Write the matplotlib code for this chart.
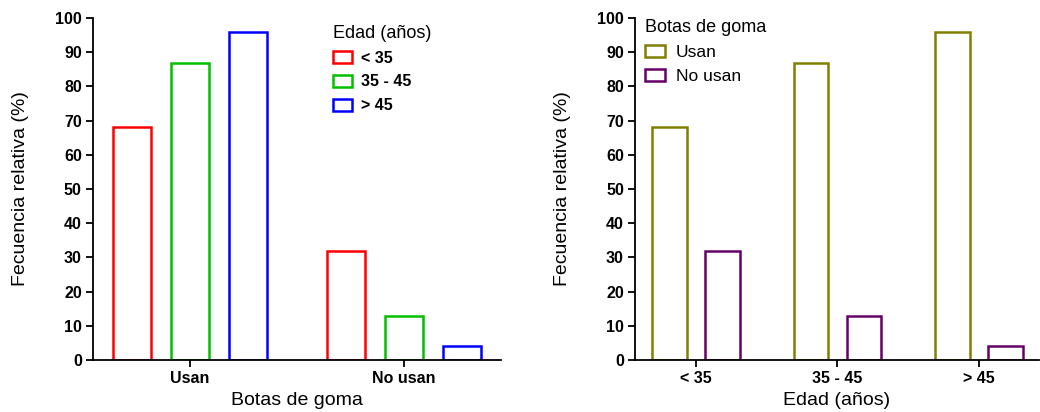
import numpy as np
import matplotlib
matplotlib.use("Agg")
import matplotlib.pyplot as plt

plt.rcParams['font.family'] = ['Liberation Sans', 'DejaVu Sans']

# Frecuencia relativa (%) por uso de botas y edad
botas = ['Usan', 'No usan']
edades = ['< 35', '35 - 45', '> 45']
usan = [68, 87, 96]
no_usan = [32, 13, 4]

colores_edad = ['#ff0000', '#00c000', '#0000ff']
colores_botas = ['#808000', '#660066']

fig = plt.figure(figsize=(10.4, 4.12), dpi=100)
ax1 = fig.add_axes([0.0894, 0.1262, 0.392, 0.830])
ax2 = fig.add_axes([0.6106, 0.1262, 0.388, 0.830])


def estilo(ax):
    for s in ['top', 'right']:
        ax.spines[s].set_visible(False)
    for s in ['left', 'bottom']:
        ax.spines[s].set_linewidth(1.3)
    ax.set_ylim(0, 100)
    ax.set_yticks(np.arange(0, 101, 10))
    ax.tick_params(axis='both', direction='out', length=5, width=1.3,
                   labelsize=11.5, pad=3)
    for lab in ax.get_yticklabels() + ax.get_xticklabels():
        lab.set_fontweight('bold')
    ax.set_ylabel('Fecuencia relativa (%)', fontsize=14, labelpad=19)


# Panel izquierdo: agrupado por botas
por_edad = np.array([usan, no_usan]).T  # filas: edad, columnas: botas
x = np.arange(len(botas))
w = 0.178
off = 0.271
for i, (edad, col) in enumerate(zip(edades, colores_edad)):
    ax1.bar(x + (i - 1) * off, por_edad[i], width=w, facecolor='white',
            edgecolor=col, linewidth=1.8, label=edad)
ax1.set_xlim(-0.453, 1.453)
ax1.set_xticks(x)
ax1.set_xticklabels(botas)
estilo(ax1)
ax1.set_xlabel('Botas de goma', fontsize=14, labelpad=4)
leg1 = ax1.legend(title='Edad (años)', loc='upper left',
                  bbox_to_anchor=(0.588, 0.98), frameon=False, fontsize=11.5,
                  title_fontsize=13, handlelength=1.2, handleheight=0.75,
                  handletextpad=0.6, labelspacing=0.55, borderpad=0,
                  borderaxespad=0)
for t in leg1.get_texts():
    t.set_fontweight('bold')
leg1._legend_box.align = 'left'

# Panel derecho: agrupado por edad
x2 = np.arange(len(edades))
w2 = 0.246
off2 = 0.187
ax2.bar(x2 - off2, usan, width=w2, facecolor='white',
        edgecolor=colores_botas[0], linewidth=1.8, label='Usan')
ax2.bar(x2 + off2, no_usan, width=w2, facecolor='white',
        edgecolor=colores_botas[1], linewidth=1.8, label='No usan')
ax2.set_xlim(-0.43, 2.42)
ax2.set_xticks(x2)
ax2.set_xticklabels(edades)
estilo(ax2)
ax2.set_xlabel('Edad (años)', fontsize=14, labelpad=4)
leg2 = ax2.legend(title='Botas de goma', loc='upper left',
                  bbox_to_anchor=(0.024, 0.997), frameon=False, fontsize=12.5,
                  title_fontsize=13, handlelength=1.15, handleheight=0.7,
                  handletextpad=0.63, labelspacing=0.52, borderpad=0,
                  borderaxespad=0)
leg2._legend_box.align = 'left'

fig.savefig('out.png', dpi=100)
plt.close(fig)
